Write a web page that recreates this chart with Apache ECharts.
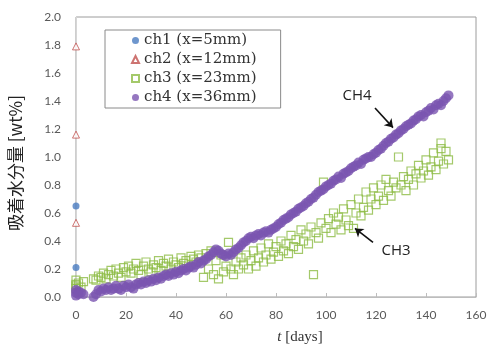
<!DOCTYPE html>
<html>
<head>
<meta charset="utf-8">
<script src="https://cdn.jsdelivr.net/npm/echarts@6/dist/echarts.min.js"></script>
<style>
  html, body { margin: 0; padding: 0; background: #fff; }
  #chart { width: 488px; height: 344px; }
</style>
</head>
<body>
<div id="chart"></div>
<script>
// data: [t (days), water content (wt%)]
const ch1 = [[0, 0.65], [0, 0.21]];
const ch2 = [[0, 1.79], [0, 1.16], [0, 0.53]];

const ch3 = [
  [0, 0.06], [0, 0.09], [0, 0.12], [0, 0.08], [1, 0.10], [2, 0.07], [3, 0.11],
  [7, 0.13], [8, 0.12], [9, 0.15], [10, 0.14], [11, 0.17], [12, 0.13], [13, 0.16], [14, 0.19],
  [15, 0.15], [16, 0.20], [17, 0.17], [18, 0.14], [19, 0.21], [20, 0.18], [21, 0.22], [22, 0.17],
  [23, 0.20], [24, 0.24], [25, 0.19], [26, 0.16], [27, 0.22], [28, 0.25], [29, 0.20], [30, 0.18],
  [31, 0.23], [32, 0.21], [33, 0.26], [34, 0.19], [35, 0.24], [36, 0.22], [37, 0.27], [38, 0.20],
  [39, 0.25], [40, 0.23], [41, 0.21], [42, 0.28], [43, 0.24], [44, 0.26], [45, 0.22], [46, 0.29],
  [47, 0.27], [48, 0.25], [49, 0.30], [50, 0.28], [51, 0.14], [52, 0.31], [53, 0.20], [54, 0.33],
  [55, 0.16], [56, 0.26], [57, 0.13], [58, 0.30], [59, 0.18], [60, 0.22], [61, 0.39], [62, 0.20],
  [63, 0.16], [64, 0.25], [65, 0.20], [66, 0.28], [67, 0.23], [68, 0.30], [69, 0.20], [70, 0.26],
  [71, 0.33], [72, 0.22], [73, 0.28], [74, 0.35], [75, 0.25], [76, 0.30], [77, 0.38], [78, 0.27],
  [79, 0.32], [80, 0.36], [81, 0.29], [82, 0.40], [83, 0.33], [84, 0.38], [85, 0.31], [86, 0.44],
  [87, 0.36], [88, 0.41], [89, 0.34], [90, 0.48], [91, 0.40], [92, 0.45], [93, 0.38], [94, 0.50],
  [95, 0.16], [96, 0.46], [97, 0.42], [98, 0.53], [99, 0.82], [100, 0.49], [101, 0.56], [102, 0.46],
  [103, 0.60], [104, 0.52], [105, 0.57], [106, 0.48], [107, 0.63], [108, 0.55], [109, 0.51], [110, 0.66],
  [111, 0.49], [112, 0.60], [113, 0.70], [114, 0.58], [115, 0.64], [116, 0.75], [117, 0.62], [118, 0.70],
  [119, 0.78], [120, 0.66], [121, 0.72], [122, 0.80], [123, 0.69], [124, 0.84], [125, 0.76], [126, 0.72],
  [127, 0.82], [128, 0.78], [129, 1.00], [130, 0.80], [131, 0.86], [132, 0.76], [133, 0.84], [134, 0.90],
  [135, 0.80], [136, 0.88], [137, 0.94], [138, 0.85], [139, 0.90], [140, 0.98], [141, 0.87], [142, 0.93],
  [143, 1.03], [144, 0.91], [145, 0.97], [146, 1.10], [147, 0.95], [148, 1.04], [149, 0.98], [146, 1.06]
];

const ch4 = [
  [0, 0.03], [0, 0.05], [0, 0.01], [1, 0.04], [1, 0.02], [2, 0.03], [3, 0.02],
  [7, 0.00], [8, 0.02], [9, 0.05], [10, 0.04], [11, 0.06], [12, 0.05], [13, 0.07], [14, 0.05],
  [15, 0.06], [16, 0.08], [17, 0.06], [18, 0.05], [19, 0.08], [20, 0.07], [21, 0.09], [22, 0.07],
  [23, 0.06], [24, 0.09], [25, 0.10], [26, 0.09], [27, 0.11], [28, 0.10], [29, 0.12], [30, 0.11],
  [31, 0.13], [32, 0.12], [33, 0.14], [34, 0.13], [35, 0.15], [36, 0.16], [37, 0.15], [38, 0.17],
  [39, 0.16], [40, 0.18], [41, 0.17], [42, 0.19], [43, 0.20], [44, 0.19], [45, 0.21], [46, 0.22],
  [47, 0.21], [48, 0.23], [49, 0.25], [50, 0.24], [51, 0.26], [52, 0.27], [53, 0.29], [54, 0.30],
  [55, 0.32], [56, 0.34], [57, 0.33], [58, 0.31], [59, 0.30], [60, 0.29], [61, 0.31], [62, 0.30],
  [63, 0.32], [64, 0.34], [65, 0.35], [66, 0.37], [67, 0.39], [68, 0.40], [69, 0.42], [70, 0.43],
  [71, 0.42], [72, 0.44], [73, 0.45], [74, 0.44], [75, 0.46], [76, 0.47], [77, 0.46], [78, 0.48],
  [79, 0.49], [80, 0.50], [81, 0.52], [82, 0.53], [83, 0.55], [84, 0.56], [85, 0.57], [86, 0.59],
  [87, 0.60], [88, 0.61], [89, 0.63], [90, 0.64], [91, 0.65], [92, 0.67], [93, 0.68], [94, 0.70],
  [95, 0.71], [96, 0.73], [97, 0.75], [98, 0.76], [99, 0.77], [100, 0.79], [101, 0.80], [102, 0.81],
  [103, 0.83], [104, 0.84], [105, 0.86], [106, 0.85], [107, 0.88], [108, 0.89], [109, 0.90], [110, 0.92],
  [111, 0.93], [112, 0.94], [113, 0.96], [114, 0.95], [115, 0.98], [116, 0.99], [117, 1.00], [118, 1.00],
  [119, 1.02], [120, 1.03], [121, 1.05], [122, 1.06], [123, 1.08], [124, 1.10], [125, 1.11], [126, 1.13],
  [127, 1.14], [128, 1.16], [129, 1.17], [130, 1.19], [131, 1.20], [132, 1.22], [133, 1.23], [134, 1.24],
  [135, 1.26], [136, 1.27], [137, 1.29], [138, 1.30], [139, 1.29], [140, 1.32], [141, 1.33], [142, 1.35],
  [143, 1.34], [144, 1.37], [145, 1.38], [146, 1.37], [147, 1.40], [148, 1.42], [149, 1.44]
];

const seriesNames = ["ch1 (x=5mm)", "ch2 (x=12mm)", "ch3 (x=23mm)", "ch4 (x=36mm)"];

// annotation arrows and labels, in data coordinates
const ch4Arrow = [[119.6, 1.35], [126.8, 1.21]];
const ch4Label = [112.4, 1.44];
const ch3Arrow = [[118.8, 0.39], [111.6, 0.49]];
const ch3Label = [128, 0.33];

function annotation(arrow, labelPos, text) {
  return {
    markLine: {
      silent: true,
      symbol: ["none", "arrow"],
      symbolSize: 8,
      label: { show: false },
      lineStyle: { color: "#111", width: 1.6, type: "solid" },
      data: [[{ coord: arrow[0] }, { coord: arrow[1] }]]
    },
    markPoint: {
      silent: true,
      symbol: "rect",
      symbolSize: 1,
      itemStyle: { color: "transparent" },
      label: {
        show: true, position: "inside", formatter: text,
        fontFamily: "Open Sans", fontSize: 15, color: "#222"
      },
      data: [{ coord: labelPos }]
    }
  };
}

const chart = echarts.init(document.getElementById("chart"));

chart.setOption({
  animation: false,
  grid: {
    left: 76, right: 12, top: 17, bottom: 47,
    outerBoundsMode: "none",
    show: true, borderColor: "#9c9c9c", borderWidth: 1
  },
  legend: {
    orient: "vertical",
    left: 105, top: 30,
    padding: [1, 24, 1, 26],
    borderColor: "#8a8a8a", borderWidth: 1,
    itemWidth: 7, itemHeight: 7, itemGap: 0,
    textStyle: { fontFamily: "DejaVu Serif", fontSize: 15, color: "#333", lineHeight: 19 },
    data: seriesNames
  },
  xAxis: {
    type: "value", min: 0, max: 160, interval: 20,
    axisLine: { lineStyle: { color: "#bdbdbd" } },
    axisTick: { inside: true, length: 4, lineStyle: { color: "#bdbdbd" } },
    splitLine: { show: false },
    axisLabel: { fontFamily: "Lato", fontSize: 12, color: "#595959", margin: 12 },
    name: "{i|t} [days]",
    nameLocation: "middle", nameGap: 33,
    nameTextStyle: {
      fontFamily: "Liberation Serif", fontSize: 15, color: "#333", padding: [0, 0, 0, 48],
      rich: { i: { fontFamily: "Liberation Serif", fontStyle: "italic", fontSize: 15, color: "#333" } }
    }
  },
  yAxis: {
    type: "value", min: 0, max: 2, interval: 0.2,
    axisLine: { show: true, lineStyle: { color: "#d6d6d6" } },
    axisTick: { show: false },
    splitLine: { show: false },
    axisLabel: { fontFamily: "Lato", fontSize: 12, color: "#595959", margin: 15, formatter: v => v.toFixed(1) },
    name: "吸着水分量 [wt%]",
    nameLocation: "middle", nameGap: 52, nameRotate: 90,
    nameTextStyle: { fontFamily: "Noto Sans CJK JP", fontSize: 17, color: "#222", padding: [0, 12, 0, 0] }
  },
  series: [
    {
      name: seriesNames[0], type: "scatter", data: ch1,
      symbol: "circle", symbolSize: 7,
      itemStyle: { color: "#4a7cc0" }
    },
    {
      name: seriesNames[1], type: "scatter", data: ch2,
      symbol: "triangle", symbolSize: 7,
      itemStyle: { color: "#fff", borderColor: "#c0504d", borderWidth: 1 }
    },
    Object.assign({
      name: seriesNames[2], type: "scatter", data: ch3,
      symbol: "rect", symbolSize: 8,
      itemStyle: { color: "rgba(255,255,255,0)", borderColor: "#8dbb45", borderWidth: 1.2 }
    }, annotation(ch3Arrow, ch3Label, "CH3")),
    Object.assign({
      name: seriesNames[3], type: "scatter", data: ch4,
      symbol: "circle", symbolSize: 10,
      itemStyle: { color: "#7a55b0" }
    }, annotation(ch4Arrow, ch4Label, "CH4"))
  ]
});
</script>
</body>
</html>
